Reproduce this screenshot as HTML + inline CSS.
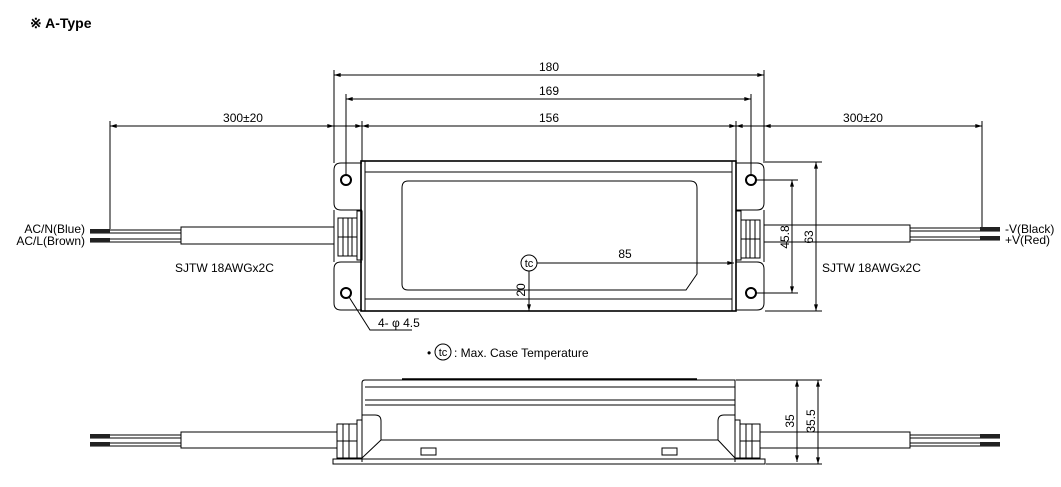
<!DOCTYPE html>
<html><head><style>
body{margin:0;background:#fff;}
svg{display:block;font-family:"Liberation Sans",Arial,sans-serif;}
</style></head><body>
<svg width="1061" height="487" viewBox="0 0 1061 487" xmlns="http://www.w3.org/2000/svg">
<defs>
<marker id="a" viewBox="0 0 10 6" refX="10" refY="3" markerWidth="8" markerHeight="4" orient="auto-start-reverse"><path d="M0,0L10,3L0,6z" fill="#000"/></marker>
</defs>
<text x="30" y="28" font-size="14" font-weight="bold">※ A-Type</text>
<g stroke="#000" stroke-width="1" fill="none">
<line x1="334" y1="70" x2="334" y2="163"/>
<line x1="764" y1="70" x2="764" y2="163"/>
<line x1="346" y1="94" x2="346" y2="175"/>
<line x1="751" y1="94" x2="751" y2="175"/>
<line x1="362" y1="121" x2="362" y2="161"/>
<line x1="736" y1="121" x2="736" y2="161"/>
<line x1="110" y1="121" x2="110" y2="229"/>
<line x1="982" y1="121" x2="982" y2="227"/>
<line x1="334" y1="75" x2="764" y2="75" marker-start="url(#a)" marker-end="url(#a)"/>
<line x1="346" y1="99" x2="751" y2="99" marker-start="url(#a)" marker-end="url(#a)"/>
<line x1="110" y1="126" x2="334" y2="126" marker-start="url(#a)" marker-end="url(#a)"/>
<line x1="334" y1="126" x2="346" y2="126"/>
<line x1="346" y1="126" x2="362" y2="126" marker-end="url(#a)"/>
<line x1="362" y1="126" x2="736" y2="126" marker-start="url(#a)" marker-end="url(#a)"/>
<line x1="736" y1="126" x2="751" y2="126" marker-start="url(#a)"/>
<line x1="751" y1="126" x2="764" y2="126"/>
<line x1="764" y1="126" x2="982" y2="126" marker-start="url(#a)" marker-end="url(#a)"/>
<path d="M362,163 H341 Q334,163 334,170 V203 Q334,210 341,210 H362"/>
<path d="M362,262 H341 Q334,262 334,269 V303 Q334,310 341,310 H362"/>
<path d="M736,163 H757 Q764,163 764,170 V203 Q764,210 757,210 H736"/>
<path d="M736,262 H757 Q764,262 764,269 V303 Q764,310 757,310 H736"/>
<line x1="334" y1="210" x2="334" y2="262"/>
<line x1="764" y1="210" x2="764" y2="262"/>
<circle cx="346" cy="180" r="5" stroke-width="2"/>
<circle cx="346" cy="293" r="5" stroke-width="2"/>
<circle cx="751" cy="180" r="5" stroke-width="2"/>
<circle cx="751" cy="293" r="5" stroke-width="2"/>
<rect x="361" y="161" width="375" height="150" stroke-width="1.6"/>
<line x1="365" y1="161" x2="365" y2="311"/>
<line x1="732" y1="161" x2="732" y2="311"/>
<line x1="365" y1="172" x2="732" y2="172"/>
<line x1="365" y1="299" x2="732" y2="299"/>
<path d="M408,181 H690 Q697,181 697,188 V274 L686,290 H408 Q402,290 402,284 V188 Q402,181 408,181Z"/>
<rect x="357" y="211" width="5" height="49"/>
<rect x="338" y="218" width="19" height="38"/>
<line x1="343" y1="218" x2="343" y2="256"/><line x1="348" y1="218" x2="348" y2="256"/><line x1="352" y1="218" x2="352" y2="256"/>
<line x1="338" y1="237" x2="357" y2="237"/>
<rect x="736" y="211" width="5" height="49"/>
<rect x="741" y="220" width="19" height="38"/>
<line x1="746" y1="220" x2="746" y2="258"/><line x1="750" y1="220" x2="750" y2="258"/><line x1="755" y1="220" x2="755" y2="258"/>
<line x1="741" y1="239" x2="760" y2="239"/>
<rect x="181" y="227" width="153" height="17"/>
<line x1="90" y1="230" x2="181" y2="230"/><line x1="90" y1="233" x2="181" y2="233"/>
<line x1="90" y1="239" x2="181" y2="239"/><line x1="90" y1="242" x2="181" y2="242"/>
<rect x="764" y="225" width="146" height="17"/>
<line x1="910" y1="228" x2="1000" y2="228"/><line x1="910" y1="231" x2="1000" y2="231"/>
<line x1="910" y1="237" x2="1000" y2="237"/><line x1="910" y1="240" x2="1000" y2="240"/>
</g>
<g fill="#222">
<rect x="90" y="229" width="20" height="4"/><rect x="90" y="238" width="20" height="4"/>
<rect x="980" y="227" width="20" height="4"/><rect x="980" y="236" width="20" height="4"/>
</g>
<g stroke="#000" stroke-width="1" fill="none">
<circle cx="529" cy="263" r="8"/>
<line x1="537" y1="263" x2="734" y2="263" marker-end="url(#a)"/>
<line x1="529" y1="271" x2="529" y2="311" marker-end="url(#a)"/>
<line x1="756" y1="180" x2="798" y2="180"/>
<line x1="756" y1="293" x2="798" y2="293"/>
<line x1="765" y1="162" x2="822" y2="162"/>
<line x1="765" y1="311" x2="822" y2="311"/>
<line x1="792" y1="180" x2="792" y2="293" marker-start="url(#a)" marker-end="url(#a)"/>
<line x1="816" y1="162" x2="816" y2="311" marker-start="url(#a)" marker-end="url(#a)"/>
<polyline points="349,297 370,330 412,330"/>
<path d="M362,462 V383 Q362,380 365,380 H735 V462"/>
<line x1="402" y1="379" x2="697" y2="379" stroke-width="1.5"/>
<line x1="365" y1="387" x2="735" y2="387"/>
<line x1="365" y1="400" x2="735" y2="400"/>
<line x1="365" y1="405" x2="735" y2="405"/>
<path d="M362,415 H375 Q381,415 381,421 V440 H718 V421 Q718,415 724,415 H735"/>
<line x1="381" y1="440" x2="362" y2="458"/>
<line x1="718" y1="440" x2="735" y2="458"/>
<rect x="333" y="459" width="432" height="5"/>
<rect x="421" y="448" width="15" height="7"/>
<rect x="662" y="448" width="15" height="7"/>
<rect x="357" y="420" width="5" height="38"/>
<rect x="337" y="424" width="20" height="34"/>
<line x1="343" y1="424" x2="343" y2="458"/><line x1="349" y1="424" x2="349" y2="458"/>
<line x1="337" y1="441" x2="357" y2="441"/>
<rect x="735" y="420" width="5" height="38"/>
<rect x="740" y="424" width="20" height="34"/>
<line x1="746" y1="424" x2="746" y2="458"/><line x1="752" y1="424" x2="752" y2="458"/>
<line x1="740" y1="441" x2="760" y2="441"/>
<rect x="181" y="432" width="156" height="16"/>
<line x1="90" y1="435" x2="181" y2="435"/><line x1="90" y1="438" x2="181" y2="438"/>
<line x1="90" y1="443" x2="181" y2="443"/><line x1="90" y1="446" x2="181" y2="446"/>
<rect x="760" y="432" width="150" height="16"/>
<line x1="910" y1="435" x2="1000" y2="435"/><line x1="910" y1="438" x2="1000" y2="438"/>
<line x1="910" y1="443" x2="1000" y2="443"/><line x1="910" y1="446" x2="1000" y2="446"/>
<line x1="736" y1="380" x2="822" y2="380"/>
<line x1="766" y1="464" x2="822" y2="464"/>
<line x1="797" y1="380" x2="797" y2="462" marker-start="url(#a)" marker-end="url(#a)"/>
<line x1="818" y1="380" x2="818" y2="464" marker-start="url(#a)" marker-end="url(#a)"/>
</g>
<g fill="#222">
<rect x="90" y="434" width="20" height="4"/><rect x="90" y="442" width="20" height="4"/>
<rect x="980" y="434" width="20" height="4"/><rect x="980" y="442" width="20" height="4"/>
</g>
<g font-size="12" fill="#000">
<text x="549" y="71" text-anchor="middle">180</text>
<text x="549" y="95" text-anchor="middle">169</text>
<text x="549" y="122" text-anchor="middle">156</text>
<text x="243" y="122" text-anchor="middle">300±20</text>
<text x="863" y="122" text-anchor="middle">300±20</text>
<text x="85" y="233" text-anchor="end">AC/N(Blue)</text>
<text x="85" y="245" text-anchor="end">AC/L(Brown)</text>
<text x="1005" y="233">-V(Black)</text>
<text x="1005" y="244">+V(Red)</text>
<text x="175" y="272">SJTW 18AWGx2C</text>
<text x="822" y="272">SJTW 18AWGx2C</text>
<text x="625" y="258" text-anchor="middle">85</text>
<text x="529" y="267" text-anchor="middle" font-size="11">tc</text>
<text transform="translate(525,290) rotate(-90)" text-anchor="middle">20</text>
<text transform="translate(789,237) rotate(-90)" text-anchor="middle">45.8</text>
<text transform="translate(813,237) rotate(-90)" text-anchor="middle">63</text>
<text transform="translate(794,421) rotate(-90)" text-anchor="middle">35</text>
<text transform="translate(815,421) rotate(-90)" text-anchor="middle">35.5</text>
<text x="378" y="327">4- φ 4.5</text>
<text x="427" y="357">• </text>
<circle cx="443" cy="352" r="8" fill="none" stroke="#000"/>
<text x="443" y="356" text-anchor="middle" font-size="11">tc</text>
<text x="454" y="357">: Max. Case Temperature</text>
</g>
</svg>
</body></html>
